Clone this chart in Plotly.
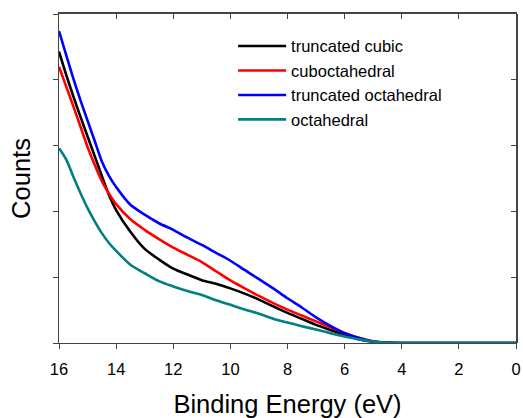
import plotly.graph_objects as go

energy = [16, 15.75, 15.5, 15.25, 15, 14.75, 14.5, 14.25, 14, 13.5, 13, 12.5, 12, 11.5, 11,
          10.5, 10, 9.5, 9, 8.5, 8, 7.5, 7, 6.5, 6, 5.5, 5, 4.5, 4, 3, 2, 1, 0]

truncated_cubic = [4.43, 4.08, 3.75, 3.44, 3.14, 2.84, 2.54, 2.25, 2.02, 1.69, 1.43, 1.27,
                   1.13, 1.04, 0.955, 0.90, 0.83, 0.75, 0.66, 0.556, 0.457, 0.367, 0.276,
                   0.199, 0.125, 0.058, 0.02, 0.003, 0, 0, 0, 0, 0]
cuboctahedral = [4.20, 3.90, 3.60, 3.29, 2.98, 2.71, 2.46, 2.27, 2.11, 1.88, 1.72, 1.58,
                 1.45, 1.34, 1.23, 1.09, 0.95, 0.83, 0.715, 0.606, 0.507, 0.418, 0.328,
                 0.237, 0.153, 0.08, 0.027, 0.004, 0, 0, 0, 0, 0]
truncated_octahedral = [4.74, 4.38, 4.02, 3.69, 3.38, 3.07, 2.76, 2.54, 2.37, 2.10, 1.95, 1.82,
                        1.72, 1.60, 1.49, 1.37, 1.25, 1.11, 0.97, 0.83, 0.68, 0.54, 0.39,
                        0.26, 0.15, 0.076, 0.024, 0.005, 0, 0, 0, 0, 0]
octahedral = [2.96, 2.79, 2.53, 2.28, 2.05, 1.85, 1.67, 1.52, 1.40, 1.19, 1.06, 0.94,
              0.86, 0.79, 0.73, 0.65, 0.58, 0.51, 0.445, 0.37, 0.31, 0.255, 0.205,
              0.15, 0.10, 0.055, 0.022, 0.004, 0, 0, 0, 0, 0]

# (name, values, colour, x-axis, y-axis); x2 (top) and y2 (right) mirror the
# main axes with identical ranges, so every series lands in the same place.
series = [
    ("truncated cubic", truncated_cubic, "#000000", "x", "y"),
    ("cuboctahedral", cuboctahedral, "#ff0000", "x", "y"),
    ("truncated octahedral", truncated_octahedral, "#0000ff", "x", "y2"),
    ("octahedral", octahedral, "#008080", "x2", "y"),
]

x_ticks = [16, 14, 12, 10, 8, 6, 4, 2, 0]
y_ticks = [0, 1, 2, 3, 4, 5]

FONT = "Arial, Liberation Sans, sans-serif"
AX = "#444444"

fig = go.Figure()
for name, vals, col, xa, ya in series:
    fig.add_trace(go.Scatter(
        x=energy, y=vals, mode="lines", name=name, xaxis=xa, yaxis=ya,
        line=dict(color=col, width=2.6, shape="spline", smoothing=0.8),
    ))

fig.update_layout(
    width=523, height=418,
    margin=dict(l=59, r=7, t=14, b=75),
    paper_bgcolor="white", plot_bgcolor="white",
    font=dict(family=FONT, color="black"),
    showlegend=True,
    legend=dict(
        x=0.381, y=0.955, xanchor="left", yanchor="top",
        bgcolor="rgba(0,0,0,0)", font=dict(size=16.5, family=FONT),
        itemwidth=48, tracegroupgap=0,
    ),
    xaxis=dict(
        range=[16, 0], tickvals=x_ticks, ticktext=[str(v) for v in x_ticks],
        ticks="outside", ticklen=5, tickcolor=AX, showline=True, linecolor=AX,
        linewidth=1, mirror=True, showgrid=False, zeroline=False, automargin=False,
        tickfont=dict(size=16.5, family=FONT), ticklabelstandoff=6,
        title=dict(text="Binding Energy (eV)", font=dict(size=25.5, family=FONT), standoff=19),
    ),
    yaxis=dict(
        range=[0, 5], tickvals=y_ticks, showticklabels=False,
        ticks="outside", ticklen=5, tickcolor=AX, showline=True, linecolor=AX,
        linewidth=1, mirror=True, showgrid=False, zeroline=False, automargin=False,
        title=dict(text="Counts", font=dict(size=25.5, family=FONT), standoff=15),
    ),
    xaxis2=dict(
        overlaying="x", anchor="y", side="top", range=[16, 0], tickvals=x_ticks,
        ticktext=["" for _ in x_ticks], showticklabels=True,
        ticks="inside", ticklen=5, tickcolor=AX, tickwidth=1,
        showline=True, linecolor=AX, linewidth=1.5, showgrid=False, zeroline=False,
        automargin=False,
    ),
    yaxis2=dict(
        overlaying="y", anchor="x", side="right", range=[0, 5], tickvals=y_ticks,
        ticktext=["" for _ in y_ticks], showticklabels=True,
        ticks="inside", ticklen=5, tickcolor=AX, tickwidth=1,
        showline=True, linecolor=AX, linewidth=1.5, showgrid=False, zeroline=False,
        automargin=False,
    ),
)

fig.write_html("out.html")
